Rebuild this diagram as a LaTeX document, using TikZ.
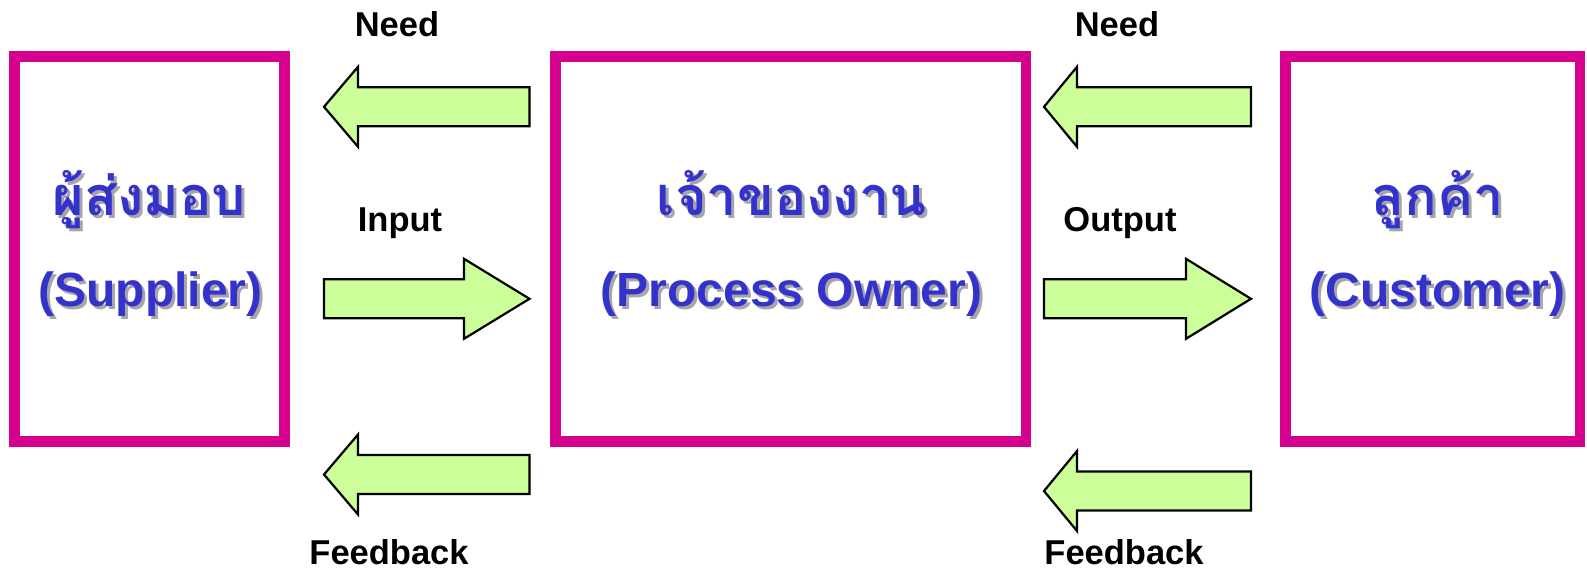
\documentclass[tikz,border=0pt]{standalone}
\usepackage{fontspec}
\setmainfont{Liberation Sans}
\newfontfamily\thaifont[Script=Thai]{Loma}
\usepackage{xcolor}
\definecolor{boxmagenta}{RGB}{214,0,143}
\definecolor{arrowgreen}{RGB}{204,255,153}
\definecolor{textblue}{RGB}{51,51,204}
\definecolor{shadegray}{RGB}{165,165,170}
% soft drop shadow behind the box titles
\newcommand\shadowed[1]{\rlap{\kern1.5pt\raisebox{-1.5pt}{\textcolor{shadegray}{#1}}}#1}

\begin{document}
\begin{tikzpicture}[x=1pt,y=1pt,line join=miter,
  party/.style={draw=boxmagenta,line width=5.25pt,minimum height=192.5pt,inner sep=0pt},
  thainame/.style={text=textblue,anchor=base,font=\thaifont\bfseries\fontsize{27}{31}\selectfont},
  engname/.style={text=textblue,anchor=base,font=\bfseries\fontsize{24}{28}\selectfont},
  flowlabel/.style={anchor=base,font=\bfseries\fontsize{17.25}{20}\selectfont},
  blockarrow/.style={draw=black,fill=arrowgreen,line width=1.1pt}]
\useasboundingbox (0,0) rectangle (793.5,285);
% the three parties
\node[party,minimum width=135pt] (sup) at (74.75,160.5) {};
\node[party,minimum width=235.25pt] (own) at (395.25,160.5) {};
\node[party,minimum width=147.25pt] (cus) at (716.25,160.5) {};
\node[thainame] (supth) at ([yshift=17pt]sup.center) {\shadowed{ผู้ส่งมอบ}};
\node[engname] (supen) at ([xshift=0.5pt,yshift=-28.5pt]sup.center) {\shadowed{(Supplier)}};
\node[thainame] (ownth) at ([xshift=0.5pt,yshift=17pt]own.center) {\shadowed{เจ้าของงาน}};
\node[engname] (ownen) at ([xshift=0.5pt,yshift=-28.5pt]own.center) {\shadowed{(Process Owner)}};
\node[thainame] (custh) at ([xshift=2.5pt,yshift=17pt]cus.center) {\shadowed{ลูกค้า}};
\node[engname] (cusen) at ([xshift=2.5pt,yshift=-28.5pt]cus.center) {\shadowed{(Customer)}};
% flows between supplier and owner
\draw[blockarrow] (162,231.6) -- (179,251.6) -- (179,241.35) -- (264.75,241.35) -- (264.75,221.85) -- (179,221.85) -- (179,211.6) -- cycle;
\draw[blockarrow] (264.75,135.6) -- (232,155.6) -- (232,145.35) -- (162,145.35) -- (162,125.85) -- (232,125.85) -- (232,115.6) -- cycle;
\draw[blockarrow] (162,47.75) -- (179,67.75) -- (179,57.5) -- (264.75,57.5) -- (264.75,38) -- (179,38) -- (179,27.75) -- cycle;
% flows between owner and customer
\draw[blockarrow] (522,231.6) -- (538.5,251.6) -- (538.5,241.35) -- (625.5,241.35) -- (625.5,221.85) -- (538.5,221.85) -- (538.5,211.6) -- cycle;
\draw[blockarrow] (625.5,135.6) -- (593,155.6) -- (593,145.35) -- (522,145.35) -- (522,125.85) -- (593,125.85) -- (593,115.6) -- cycle;
\draw[blockarrow] (522,39.5) -- (538.5,59.5) -- (538.5,49.25) -- (625.5,49.25) -- (625.5,29.75) -- (538.5,29.75) -- (538.5,19.5) -- cycle;
% flow labels
\node[flowlabel] (needl) at (198.5,266.9) {Need};
\node[flowlabel] (input) at (200,169.2) {Input};
\node[flowlabel] (fbl) at (194.5,3) {Feedback};
\node[flowlabel] (needr) at (558.5,266.9) {Need};
\node[flowlabel] (output) at (560,169.2) {Output};
\node[flowlabel] (fbr) at (562,3) {Feedback};
\end{tikzpicture}
\end{document}
